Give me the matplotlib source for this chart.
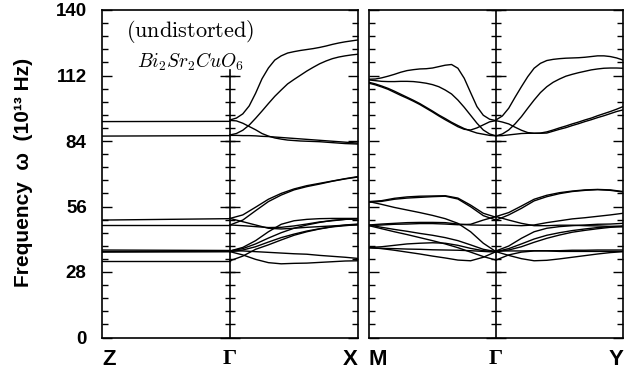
import matplotlib
matplotlib.use('Agg')
import numpy as np
import matplotlib.pyplot as plt
from matplotlib.ticker import MultipleLocator

plt.rcParams['mathtext.fontset'] = 'cm'
plt.rcParams['font.family'] = ['Liberation Sans', 'DejaVu Sans']

# fractional positions along one path segment
t_flat = [0.0, 1.0]
t_coarse = [0.0, 0.1, 0.2, 0.3, 0.4, 0.5, 0.6, 0.7, 0.8, 0.9, 1.0]
t_fine = [0.0, 0.05, 0.1, 0.15, 0.2, 0.25, 0.3, 0.35, 0.4, 0.45, 0.5,
          0.55, 0.6, 0.65, 0.7, 0.75, 0.8, 0.85, 0.9, 0.95, 1.0]

# Z -> Gamma (flat bands)
zg_bands = [[92.3, 92.4], [86.1, 86.3], [50.2, 50.8], [48.1, 48.1],
            [37.4, 37.2], [36.9, 36.9], [36.5, 36.7], [32.8, 32.8]]

# Gamma -> X
gx_upper = [
    [93.0, 93.8, 95.6, 99.0, 104.4, 110.6, 115.2, 118.6, 120.4, 121.6, 122.2,
     122.7, 123.1, 123.5, 124.0, 124.6, 125.3, 125.9, 126.4, 126.8, 127.2],
    [86.6, 87.2, 88.6, 90.8, 93.7, 96.8, 100.0, 103.1, 105.8, 108.4, 110.3,
     112.1, 113.9, 115.5, 117.0, 118.2, 119.2, 119.9, 120.4, 120.8, 121.1],
    [92.8, 92.6, 91.6, 90.2, 88.8, 87.2, 86.1, 85.3, 84.8, 84.4, 84.2,
     84.0, 83.9, 83.8, 83.7, 83.5, 83.3, 83.1, 82.9, 82.8, 82.7],
    [86.4, 86.4, 86.3, 86.3, 86.2, 86.0, 85.9, 85.7, 85.5, 85.3, 85.1,
     84.9, 84.7, 84.5, 84.3, 84.1, 83.9, 83.7, 83.5, 83.3, 83.1],
]
gx_lower = [
    [50.9, 52.4, 55.7, 59.1, 61.6, 63.5, 64.9, 65.9, 66.9, 67.9, 68.8],
    [48.1, 50.2, 54.2, 58.1, 60.9, 63.1, 64.5, 65.6, 66.8, 67.8, 68.6],
    [50.9, 49.5, 48.1, 46.7, 46.4, 46.7, 47.1, 47.4, 47.7, 48.0, 48.1],
    [48.1, 47.8, 47.4, 47.0, 47.1, 47.7, 48.5, 49.4, 49.9, 50.5, 50.8],
    [37.0, 38.5, 41.4, 45.2, 48.4, 49.9, 50.5, 50.8, 50.9, 50.9, 50.9],
    [37.0, 38.0, 40.0, 42.5, 44.8, 46.7, 48.1, 49.2, 50.1, 50.5, 50.7],
    [36.7, 37.4, 38.8, 40.8, 42.7, 44.2, 45.5, 46.5, 47.4, 48.1, 48.5],
    [37.0, 37.0, 36.7, 36.4, 36.1, 35.8, 35.6, 35.1, 34.7, 34.3, 33.8],
    [36.7, 35.3, 33.4, 32.0, 31.5, 31.7, 31.8, 32.1, 32.4, 32.7, 32.8],
    [32.8, 34.8, 37.7, 39.6, 41.7, 43.7, 45.2, 46.4, 47.3, 47.8, 48.3],
]

# M -> Gamma
mg_upper = [
    [110.4, 110.5, 111.0, 111.7, 112.5, 113.4, 114.1, 114.5, 114.8, 114.9, 115.2,
     115.8, 116.4, 116.7, 115.1, 110.8, 104.7, 98.7, 95.0, 93.3, 92.7],
    [110.1, 109.8, 109.5, 109.4, 109.4, 109.5, 109.5, 109.4, 109.1, 108.7, 108.1,
     107.2, 105.8, 104.1, 101.5, 98.4, 95.0, 91.6, 88.7, 87.0, 86.2],
    [109.1, 108.4, 107.5, 106.5, 105.3, 104.0, 102.7, 101.4, 100.0, 98.4, 96.8,
     95.1, 93.6, 92.0, 90.6, 89.3, 88.3, 87.4, 86.9, 86.4, 86.2],
    [108.7, 108.0, 107.1, 106.1, 104.8, 103.5, 102.3, 101.0, 99.6, 98.0, 96.4,
     94.7, 93.1, 91.6, 90.1, 89.0, 88.7, 89.6, 90.9, 92.2, 92.7],
]
mg_lower = [
    [58.1, 58.5, 59.5, 60.1, 60.4, 60.5, 60.6, 59.6, 56.6, 53.1, 51.4],
    [57.8, 58.2, 59.1, 59.6, 59.9, 60.2, 60.4, 59.2, 55.9, 52.1, 50.2],
    [58.1, 56.9, 55.6, 54.5, 53.4, 52.2, 50.8, 48.8, 45.2, 40.3, 36.7],
    [48.1, 48.5, 48.8, 49.1, 49.2, 49.2, 49.1, 48.5, 48.1, 48.0, 48.0],
    [47.8, 48.1, 48.4, 48.5, 48.7, 48.7, 48.5, 48.2, 48.4, 50.2, 51.7],
    [48.1, 47.1, 46.2, 45.4, 44.5, 43.7, 42.7, 41.4, 39.6, 37.7, 36.7],
    [47.8, 46.5, 45.2, 44.0, 42.7, 41.4, 40.0, 38.4, 36.5, 34.6, 33.1],
    [38.5, 38.8, 39.4, 40.0, 40.3, 40.5, 40.3, 39.4, 38.1, 37.1, 36.7],
    [38.5, 38.0, 37.3, 36.5, 35.7, 34.8, 34.0, 33.1, 32.8, 34.3, 36.7],
    [38.3, 38.1, 38.0, 37.8, 37.7, 37.5, 37.4, 37.3, 37.1, 36.8, 36.5],
]

# Gamma -> Y
gy_upper = [
    [93.0, 94.7, 98.0, 102.7, 107.2, 111.5, 115.1, 117.2, 118.4, 118.9, 119.2,
     119.4, 119.5, 119.6, 119.8, 120.1, 120.4, 120.4, 120.1, 119.5, 118.6],
    [86.2, 87.0, 88.7, 91.3, 94.4, 98.0, 101.5, 104.7, 107.2, 109.1, 110.5,
     111.7, 112.5, 113.2, 113.8, 114.4, 114.8, 115.1, 115.2, 115.2, 115.1],
    [92.7, 92.1, 91.3, 89.9, 88.6, 87.6, 87.3, 87.4, 87.9, 88.7, 89.6,
     90.4, 91.3, 92.1, 93.0, 93.8, 94.8, 95.7, 96.6, 97.6, 98.7],
    [86.2, 86.3, 86.6, 86.9, 87.2, 87.3, 87.3, 87.3, 87.4, 88.2, 89.0,
     89.7, 90.6, 91.4, 92.3, 93.1, 94.0, 94.8, 95.7, 96.6, 97.3],
]
gy_lower = [
    [51.7, 53.4, 56.2, 59.1, 60.8, 61.9, 62.6, 63.1, 63.3, 63.1, 62.4],
    [50.2, 52.4, 55.2, 58.4, 60.2, 61.5, 62.4, 62.9, 63.2, 62.9, 62.2],
    [51.7, 50.2, 48.8, 47.8, 47.8, 48.0, 48.0, 47.8, 47.7, 47.5, 47.4],
    [48.1, 48.0, 47.8, 48.1, 49.1, 49.9, 50.7, 51.2, 51.8, 52.4, 53.1],
    [37.0, 39.1, 42.4, 45.2, 46.7, 47.4, 47.8, 48.1, 48.4, 48.5, 48.8],
    [36.7, 38.0, 40.0, 42.1, 43.7, 44.8, 45.7, 46.4, 47.0, 47.4, 47.7],
    [36.7, 37.4, 38.8, 40.7, 42.4, 43.8, 45.0, 45.8, 46.5, 47.1, 47.4],
    [37.0, 37.0, 37.0, 37.1, 37.1, 37.1, 37.3, 37.3, 37.4, 37.4, 37.4],
    [36.7, 35.1, 33.7, 32.8, 33.0, 33.6, 34.3, 35.0, 35.7, 36.3, 36.7],
    [33.1, 35.3, 36.5, 37.0, 37.0, 36.8, 36.8, 36.8, 36.8, 36.8, 36.8],
]

freq_major = [0, 28, 56, 84, 112, 140]
freq_minor = list(np.arange(0, 140.1, 5.6))
left_labels = ['Z', 'Γ', 'X']
right_labels = ['M', 'Γ', 'Y']


def draw(ax, offset, t, bands):
    for b in bands:
        ax.plot([offset + ti for ti in t], b, color='k', lw=1.0)


def frame(ax, labels, gamma_top):
    ax.set_xlim(0, 2)
    ax.set_ylim(0, 140)
    ax.yaxis.set_major_locator(MultipleLocator(28))
    ax.yaxis.set_minor_locator(MultipleLocator(5.6))
    ax.tick_params(axis='y', which='both', direction='in', left=True, right=True,
                   width=1.0)
    ax.tick_params(axis='y', which='major', length=7.5)
    ax.tick_params(axis='y', which='minor', length=4)
    ax.set_xticks([0, 1, 2])
    ax.set_xticklabels(labels, fontsize=16, fontweight='bold')
    ax.tick_params(axis='x', length=0, pad=8)
    tl = ax.get_xticklabels()
    tl[0].set_ha('left')
    tl[1].set_fontfamily('Liberation Serif')
    tl[2].set_ha('right')
    for s in ax.spines.values():
        s.set_linewidth(1.2)
    # Gamma line with its own tick marks
    ax.axvline(1, ymax=gamma_top / 140, color='k', lw=1.2)
    mn = [v for v in freq_minor if v <= gamma_top]
    mj = [v for v in freq_major if v <= gamma_top]
    ax.plot([1] * len(mn), mn, ls='none', marker='_', ms=7, mew=1.0, color='k')
    ax.plot([1] * len(mj), mj, ls='none', marker='_', ms=14.5, mew=1.0,
            color='k', clip_on=False)


fig = plt.figure(figsize=(6.24, 3.75), dpi=100)
ax1 = fig.add_axes([102 / 624, 37.5 / 375, 256 / 624, 327.5 / 375])
ax2 = fig.add_axes([369 / 624, 37.5 / 375, 254 / 624, 327.5 / 375])

draw(ax1, 0, t_flat, zg_bands)
draw(ax1, 1, t_fine, gx_upper)
draw(ax1, 1, t_coarse, gx_lower)
draw(ax2, 0, t_fine, mg_upper)
draw(ax2, 0, t_coarse, mg_lower)
draw(ax2, 1, t_fine, gy_upper)
draw(ax2, 1, t_coarse, gy_lower)

frame(ax1, left_labels, 114.5)
frame(ax2, right_labels, 140)

ax1.set_yticks(freq_major)
ax1.set_yticklabels([str(v) for v in freq_major], fontsize=13.5, fontweight='bold')
ax1.tick_params(axis='y', pad=11)
ax2.set_yticks(freq_major)
ax2.tick_params(axis='y', labelleft=False)

fig.text(0.037, 0.54, 'Frequency  ω  (10¹³ Hz)', rotation=90, fontsize=15,
         fontweight='bold', ha='center', va='center')

ax1.text(0.095, 0.975, r'$\mathrm{(undistorted)}$', transform=ax1.transAxes,
         fontsize=16, ha='left', va='top')
ax1.text(0.135, 0.875, r'$Bi_2Sr_2CuO_6$', transform=ax1.transAxes,
         fontsize=14, ha='left', va='top')

fig.savefig('out.png', dpi=100)
